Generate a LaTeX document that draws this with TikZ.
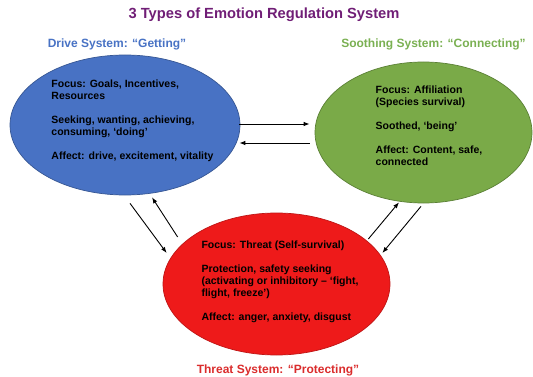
\documentclass[tikz,border=0pt]{standalone}
\usepackage{fontspec}
\setmainfont{Liberation Sans}
\usepackage{tikz}
\usetikzlibrary{arrows.meta,positioning,shapes.geometric}
\definecolor{driveblue}{RGB}{72,114,196}
\definecolor{soothegreen}{RGB}{122,170,72}
\definecolor{threatred}{RGB}{238,26,26}
\definecolor{titlepurple}{RGB}{112,30,118}
\definecolor{soothelabel}{RGB}{122,176,82}
\definecolor{threatlabel}{RGB}{218,44,44}

\begin{document}
\begin{tikzpicture}[x=1pt,y=-1pt,
  system/.style={ellipse,draw,line width=0.7pt,inner sep=0pt},
  body/.style={align=left,inner sep=0pt,font=\bfseries\fontsize{10.5}{12}\selectfont},
  syslabel/.style={inner sep=0pt,font=\bfseries\fontsize{12}{14}\selectfont},
  arr/.style={-{Latex[length=6pt,width=4.5pt]},line width=0.9pt}]
  \useasboundingbox (0,0) rectangle (533,377);

  \node[font=\bfseries\fontsize{14.7}{17}\selectfont,text=titlepurple] (title) at (264,15) {3 Types of Emotion Regulation System};

  % the three systems
  \node[system,fill=driveblue,draw=driveblue!75!black,minimum width=230pt,minimum height=140pt] (drive) at (125,125) {};
  \node[system,fill=soothegreen,draw=soothegreen!75!black,minimum width=217pt,minimum height=141pt] (soothe) at (423.5,132.5) {};
  \node[system,fill=threatred,draw=threatred!80!black,minimum width=227pt,minimum height=142pt] (threat) at (276.5,284) {};

  \node[syslabel,text=driveblue,above=4pt of drive,xshift=-8pt] (drivelabel) {Drive System: ``Getting''};
  \node[syslabel,text=soothelabel,above=11.5pt of soothe,xshift=10pt] (soothelbl) {Soothing System: ``Connecting''};
  \node[syslabel,text=threatlabel,below=9.5pt of threat,xshift=1.5pt] (threatlbl) {Threat System: ``Protecting''};

  \node[body] (drivetext) at ([xshift=7.5pt,yshift=4.5pt]drive.center)
    {Focus: Goals, Incentives,\\Resources\\[12pt]
     Seeking, wanting, achieving,\\consuming, `doing'\\[12pt]
     Affect: drive, excitement, vitality};
  \node[body] (soothetext) at ([xshift=5.5pt,yshift=6.5pt]soothe.center)
    {Focus: Affiliation\\(Species survival)\\[12pt]
     Soothed, `being'\\[12pt]
     Affect: Content, safe,\\connected};
  \node[body] (threattext) at ([xshift=3.5pt,yshift=2.5pt]threat.center)
    {Focus: Threat (Self-survival)\\[12pt]
     Protection, safety seeking\\(activating or inhibitory -- `fight,\\flight, freeze')\\[12pt]
     Affect: anger, anxiety, disgust};

  % drive <-> soothing
  \draw[arr] ([xshift=-1pt,yshift=1pt]drive.east) -- ([xshift=-5pt,yshift=8.5pt]soothe.west);
  \draw[arr] ([xshift=-5pt,yshift=-10.5pt]soothe.west) -- ([xshift=-1pt,yshift=-18pt]drive.east);
  % drive <-> threat
  \draw[arr] ([xshift=5pt,yshift=-8pt]drive.south) -- ([xshift=4pt,yshift=31pt]threat.west);
  \draw[arr] ([xshift=15pt,yshift=47pt]threat.west) -- ([xshift=27pt,yshift=-2pt]drive.south);
  % threat <-> soothing
  \draw[arr] ([xshift=-22pt,yshift=45pt]threat.east) -- ([xshift=-24.5pt,yshift=1pt]soothe.south);
  \draw[arr] ([xshift=-2.5pt,yshift=-3pt]soothe.south) -- ([xshift=-8pt,yshift=31pt]threat.east);
\end{tikzpicture}
\end{document}
